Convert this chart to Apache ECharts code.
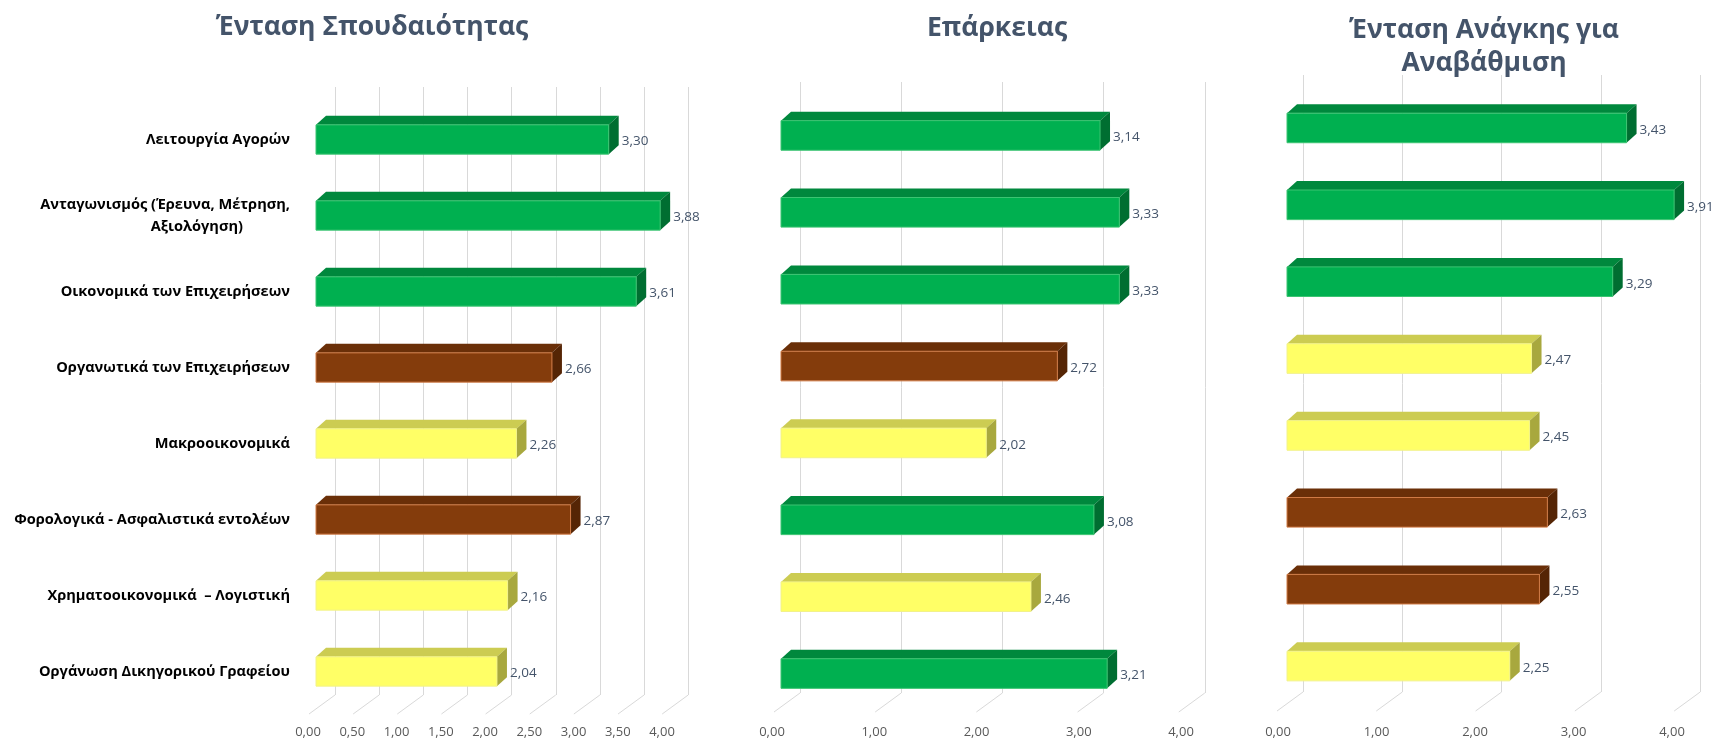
<!DOCTYPE html>
<html><head><meta charset="utf-8">
<script src="https://cdn.jsdelivr.net/npm/echarts@6/dist/echarts.min.js"></script>
<style>html,body{margin:0;padding:0;background:#fff}#c{width:1726px;height:750px}</style>
</head><body><div id="c"></div><script>
const categories = [
  'Λειτουργία Αγορών',
  'Ανταγωνισμός (Έρευνα, Μέτρηση,\nΑξιολόγηση)',
  'Οικονομικά των Επιχειρήσεων',
  'Οργανωτικά των Επιχειρήσεων',
  'Μακροοικονομικά',
  'Φορολογικά - Ασφαλιστικά εντολέων',
  'Χρηματοοικονομικά  – Λογιστική',
  'Οργάνωση Δικηγορικού Γραφείου'
];
const importance = [3.30, 3.88, 3.61, 2.66, 2.26, 2.87, 2.16, 2.04];
const adequacy = [3.14, 3.33, 3.33, 2.72, 2.02, 3.08, 2.46, 3.21];
const upgradeNeed = [3.43, 3.91, 3.29, 2.47, 2.45, 2.63, 2.55, 2.25];
const panelTitles = ['Ένταση Σπουδαιότητας', 'Επάρκειας', 'Ένταση Ανάγκης για\nΑναβάθμιση'];
const ticksFine = [0, 0.5, 1, 1.5, 2, 2.5, 3, 3.5, 4];
const ticksWhole = [0, 1, 2, 3, 4];

const FONT = '"Open Sans", "Noto Sans", sans-serif';
const panels = [
  { values: importance, ticks: ticksFine, interval: 0.5, titleX: 367, titleTop: 6,
    bar: { left: 316, top: 101.5, width: 354.8, height: 608 },
    wall: { left: 335, top: 87, width: 353.2, height: 608 },
    lab: { left: 308, width: 354 } },
  { values: adequacy, ticks: ticksWhole, interval: 1, titleX: 992, titleTop: 7,
    bar: { left: 781, top: 97, width: 406.4, height: 615 },
    wall: { left: 800, top: 82, width: 404.8, height: 611 },
    lab: { left: 772, width: 409 } },
  { values: upgradeNeed, ticks: ticksWhole, interval: 1, titleX: 1479, titleTop: 9,
    bar: { left: 1287, top: 89.5, width: 396, height: 615 },
    wall: { left: 1303, top: 75, width: 397.2, height: 617 },
    lab: { left: 1278, width: 394 } }
];

function palette(v) {
  if (v >= 3) return { front: '#00B050', top: '#00883D', side: '#006E31', edge: '#3CC472' };
  if (v >= 2.5) return { front: '#843C0C', top: '#6A2F08', side: '#552505', edge: '#D07A45' };
  return { front: '#FFFF66', top: '#CCCC52', side: '#A8A83E', edge: '#F2F28A' };
}
const fmt = v => v.toFixed(2).replace('.', ',');

function bar3d(params, api) {
  const v = api.value(0), i = api.value(1);
  const a = api.coord([0, i]), b = api.coord([v, i]);
  const band = api.size([0, 1])[1];
  const h = band * 0.385, dx = 10, dy = 9;
  const x0 = a[0], x1 = b[0], yT = b[1] - h / 2, yB = b[1] + h / 2;
  const c = palette(v);
  return { type: 'group', children: [
    { type: 'polygon', shape: { points: [[x0, yT], [x0 + dx, yT - dy], [x1 + dx, yT - dy], [x1, yT]] }, style: { fill: c.top } },
    { type: 'polygon', shape: { points: [[x1, yT], [x1 + dx, yT - dy], [x1 + dx, yB - dy], [x1, yB]] }, style: { fill: c.side } },
    { type: 'rect', shape: { x: x0, y: yT, width: x1 - x0, height: yB - yT }, style: { fill: c.front, stroke: c.edge, lineWidth: 1 } },
    { type: 'text', style: { x: x1 + dx + 3, y: b[1] + 2, text: fmt(v), fill: '#44546A', fontSize: 13.5, fontFamily: FONT, align: 'left', verticalAlign: 'middle' } }
  ] };
}

function floorLine(params, api) {
  const v = api.value(0);
  const p = api.coord([v, 0]);
  const cs = params.coordSys;
  const yb = cs.y + cs.height;
  return { type: 'line', shape: { x1: p[0], y1: yb, x2: p[0] - 26, y2: yb + 19 }, style: { stroke: '#D9D9D9', lineWidth: 1 } };
}

const grid = [], xAxis = [], yAxis = [], series = [], title = [];
panels.forEach((p, k) => {
  const gw = 3 * k, gb = 3 * k + 1, gl = 3 * k + 2;
  grid.push({ left: p.wall.left, top: p.wall.top, width: p.wall.width, height: p.wall.height });
  grid.push({ left: p.bar.left, top: p.bar.top, width: p.bar.width, height: p.bar.height });
  grid.push({ left: p.lab.left, top: 700, width: p.lab.width, height: 20 });

  xAxis.push({ gridIndex: gw, type: 'value', min: 0, max: 4, interval: p.interval,
    axisLine: { show: false }, axisTick: { show: false }, axisLabel: { show: false },
    splitLine: { show: true, lineStyle: { color: '#D9D9D9', width: 1 } } });
  xAxis.push({ gridIndex: gb, type: 'value', min: 0, max: 4, show: false });
  xAxis.push({ gridIndex: gl, type: 'value', min: 0, max: 4, interval: p.interval,
    axisLine: { show: false }, axisTick: { show: false }, splitLine: { show: false },
    axisLabel: { show: true, margin: 6, color: '#595959', fontSize: 13, fontFamily: FONT, formatter: fmt } });

  yAxis.push({ gridIndex: gw, type: 'value', min: 0, max: 1, show: false });
  yAxis.push({ gridIndex: gb, type: 'category', inverse: true, data: categories,
    axisLine: { show: false }, axisTick: { show: false }, splitLine: { show: false },
    axisLabel: k === 0 ? {
      show: true, margin: 26, align: 'right',
      formatter: s => { const parts = s.split('\n'); return parts.length > 1 ? '{a|' + parts[0] + '}\n{b|' + parts[1] + '}' : '{a|' + s + '}'; },
      rich: {
        a: { fontSize: 14.6, fontWeight: 'bold', color: '#000', fontFamily: FONT, lineHeight: 22 },
        b: { fontSize: 14.6, fontWeight: 'bold', color: '#000', fontFamily: FONT, lineHeight: 22, padding: [0, 47, 0, 0] }
      }
    } : { show: false } });
  yAxis.push({ gridIndex: gl, type: 'value', show: false });

  series.push({ type: 'custom', xAxisIndex: gw, yAxisIndex: gw, renderItem: floorLine,
    data: p.ticks.map(t => [t, 0]), silent: true, z: 1, clip: false });
  series.push({ type: 'custom', xAxisIndex: gb, yAxisIndex: gb, renderItem: bar3d,
    encode: { x: 0, y: 1 }, data: p.values.map((v, i) => [v, i]), z: 5, clip: false });

  title.push({ text: panelTitles[k], left: p.titleX, top: p.titleTop, textAlign: 'center',
    textStyle: { fontSize: 26.5, fontWeight: 'bold', color: '#44546A', fontFamily: FONT, lineHeight: 33 } });
});

const chart = echarts.init(document.getElementById('c'), null, { renderer: 'canvas' });
chart.setOption({ backgroundColor: '#fff', animation: false, title, grid, xAxis, yAxis, series });
</script></body></html>
